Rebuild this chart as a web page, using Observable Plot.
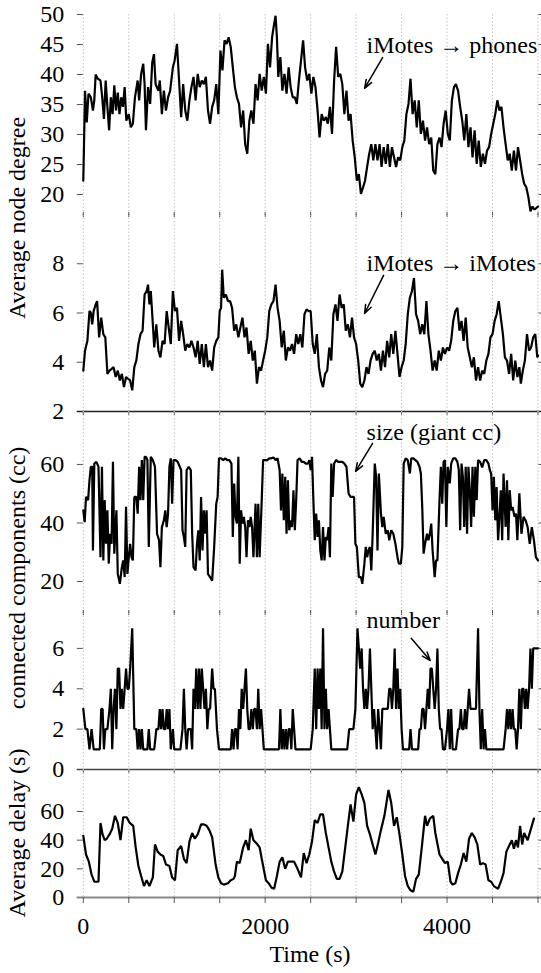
<!DOCTYPE html>
<html><head><meta charset="utf-8">
<script src="https://cdn.jsdelivr.net/npm/d3@7"></script>
<script src="https://cdn.jsdelivr.net/npm/@observablehq/plot@0.6"></script>
<style>
html,body{margin:0;padding:0;background:#fff;}
#chart{position:relative;width:541px;height:973px;overflow:hidden;font-family:"Liberation Serif","Times New Roman",serif;}
#chart svg{position:absolute;left:0;}
#chart svg text{font-family:"Liberation Serif","Times New Roman",serif;}
</style></head><body><div id="chart"></div>
<script>
const FONT = '"Liberation Serif", "Times New Roman", serif';
const FS = 24;

// x ticks / grid (seconds)
const gridX = [0,500,1000,1500,2000,2500,3000,3500,4000,4500,5000];
const xLabels = [0,2000,4000];

// y ticks per panel
const ticksPhones = [20,25,30,35,40,45,50];
const ticksMotes = [2,4,6,8];
const ticksSize = [20,40,60];
const ticksNumber = [0,2,4,6];
const ticksDelay = [0,20,40,60];

// axis titles
const titleDegree = "Average node degree";
const titleCC = "connected components (cc)";
const titleDelay = "Average delay (s)";
const titleTime = "Time (s)";

// series: [time (s), value]
const phones = [[0,22.3],[19,37.3],[38,32],[57,36.8],[83,36.2],[106,34],[121,35.7],[136,40],[159,39.3],[189,39],[208,36.2],[227,32.6],[246,39],[265,34.6],[284,30.7],[303,36.2],[322,33.4],[341,38.2],[360,34],[379,37],[398,33.4],[417,36.2],[436,34.6],[455,37.9],[473,32.3],[500,33.4],[523,31.2],[545,31.8],[568,36.2],[598,39],[614,35.7],[636,40.1],[659,41.8],[674,38.4],[689,30.7],[712,37.9],[735,35.1],[758,42],[777,43.4],[795,38.4],[826,37.3],[841,39],[864,33.4],[886,37.3],[909,34],[932,36.2],[955,37.3],[985,41.2],[1004,42.3],[1030,45.1],[1053,39],[1076,32.9],[1098,38.4],[1121,34],[1144,32.3],[1167,35.7],[1189,37.9],[1212,39.6],[1235,35.7],[1258,40.1],[1280,37.9],[1303,39],[1326,38.4],[1348,39.6],[1371,34],[1394,31.8],[1417,34.6],[1439,35.7],[1462,38.4],[1485,33.4],[1508,44],[1530,40.7],[1553,45.7],[1576,45.1],[1598,46.2],[1621,44.6],[1644,41.2],[1667,37.9],[1689,36.2],[1712,35.1],[1735,31.2],[1758,34],[1780,28.4],[1803,26.8],[1826,32.3],[1848,34],[1871,31.8],[1894,38.4],[1917,35.7],[1939,40.1],[1962,37.3],[1985,39.6],[2008,36.8],[2030,45.1],[2053,41.2],[2076,46.2],[2098,48.4],[2114,49.8],[2129,46.2],[2144,39.6],[2167,42.9],[2189,37.3],[2212,40.1],[2235,36.8],[2258,41.2],[2280,37.9],[2303,36.2],[2326,36.2],[2348,35.1],[2371,39],[2394,42.3],[2417,45.7],[2439,41.2],[2462,39],[2485,40.1],[2508,36.8],[2530,39.6],[2553,37.9],[2576,34],[2598,29.5],[2621,33.4],[2644,32.3],[2667,32.9],[2689,31.8],[2712,34.6],[2735,30.1],[2758,39],[2780,44.6],[2803,39.6],[2826,40.1],[2848,38.4],[2871,33.4],[2894,37.3],[2917,32.3],[2939,33.4],[2962,29],[2985,26.2],[3008,22.3],[3030,23.4],[3053,20.1],[3076,21.2],[3098,22.3],[3121,24.6],[3144,26.8],[3167,28.4],[3189,25.7],[3212,28.4],[3235,25.7],[3258,28.4],[3280,24.6],[3303,27.9],[3326,25.1],[3348,28.4],[3371,24.6],[3394,27.9],[3417,26.2],[3439,24.6],[3462,26.2],[3485,25.7],[3508,27.9],[3530,29],[3553,33.4],[3576,35.1],[3598,39.3],[3621,33.4],[3644,35.7],[3667,31.2],[3689,35.7],[3712,30.1],[3735,32.3],[3758,29],[3780,31.2],[3803,28.4],[3826,29.5],[3848,24],[3871,23.4],[3894,28.4],[3917,29.5],[3939,27.9],[3962,31.8],[3985,34],[4008,30.1],[4030,29],[4053,35.7],[4076,37.9],[4098,38.4],[4121,37.3],[4144,34.6],[4167,32.3],[4189,29],[4212,33.4],[4235,27.9],[4258,31.2],[4280,26.2],[4303,30.7],[4326,25.1],[4348,29],[4371,24.6],[4394,26.8],[4417,25.1],[4439,27.3],[4462,27.9],[4485,30.1],[4508,31.8],[4530,33.4],[4553,35.7],[4576,34],[4598,34.6],[4621,31.2],[4644,28.4],[4667,25.7],[4689,26.8],[4712,24],[4735,27.3],[4758,24],[4780,27.9],[4803,25.7],[4826,23.4],[4848,21.8],[4871,21.2],[4894,19.6],[4917,17.2],[4939,18],[4962,17.5],[4985,17.8],[5000,18]];

const motes = [[0,3.66],[19,4.47],[45,4.87],[68,6.08],[83,6.01],[98,5.54],[114,6.08],[136,6.35],[152,6.48],[174,5.01],[197,5.81],[220,5.14],[242,5.01],[265,3.53],[288,3.66],[311,3.73],[333,3.8],[356,3.4],[379,3.66],[402,3.26],[424,3.53],[447,2.99],[470,3.4],[492,3.33],[515,3.26],[538,2.86],[561,3.8],[583,4.07],[606,4.74],[629,5.14],[652,5.28],[674,6.75],[697,6.89],[712,7.15],[727,6.35],[742,6.89],[758,5.95],[780,4.6],[803,5.54],[826,4.47],[848,4.2],[871,4.87],[894,4.74],[917,6.08],[939,5.41],[962,4.74],[985,6.89],[1008,6.08],[1030,6.21],[1053,4.87],[1076,5.68],[1098,5.14],[1121,4.47],[1144,4.74],[1167,4.6],[1189,4.87],[1212,4.6],[1235,4.2],[1258,4.87],[1280,3.93],[1303,4.74],[1326,3.8],[1348,4.74],[1371,3.8],[1394,4.07],[1417,3.66],[1439,4.6],[1462,4.87],[1485,5.01],[1500,6.08],[1515,6.21],[1527,7.76],[1545,6.62],[1568,6.75],[1591,6.48],[1614,6.48],[1636,6.21],[1659,5.28],[1682,5.54],[1705,5.01],[1727,5.41],[1750,5.81],[1773,5.01],[1795,5.41],[1818,4.34],[1841,4.87],[1864,4.07],[1886,4.47],[1909,3.13],[1932,3.8],[1955,3.66],[1977,4.07],[2000,4.47],[2023,5.01],[2045,6.08],[2068,6.35],[2091,6.48],[2114,7.15],[2136,6.21],[2159,5.68],[2182,4.6],[2205,5.28],[2227,4.07],[2250,4.6],[2273,4.47],[2295,4.74],[2318,4.34],[2341,5.14],[2364,4.74],[2386,5.14],[2409,4.6],[2432,5.95],[2455,6.15],[2477,6.08],[2500,6.08],[2523,4.74],[2545,4.34],[2568,5.14],[2591,3.8],[2614,3.26],[2636,2.99],[2659,3.53],[2682,3.66],[2705,4.6],[2727,4.07],[2750,5.95],[2773,6.35],[2795,5.68],[2818,6.75],[2841,6.21],[2864,6.35],[2886,5.28],[2909,5.54],[2932,5.01],[2955,5.81],[2977,5.01],[3000,4.74],[3023,4.07],[3045,3.13],[3068,2.99],[3091,3.26],[3114,3.8],[3136,3.53],[3159,4.07],[3182,4.34],[3205,4.47],[3227,4.07],[3250,4.34],[3273,3.66],[3295,4.47],[3318,3.8],[3341,4.87],[3364,4.2],[3386,5.14],[3409,4.34],[3432,5.28],[3455,4.34],[3477,3.4],[3500,3.8],[3523,4.07],[3545,4.74],[3568,5.95],[3591,6.62],[3614,6.89],[3636,7.42],[3659,5.95],[3682,5.68],[3705,5.14],[3727,5.54],[3750,5.14],[3773,6.48],[3795,5.14],[3818,4.47],[3841,3.66],[3864,4.07],[3886,3.66],[3909,4.47],[3932,4.07],[3955,4.6],[3977,4.34],[4000,4.6],[4023,4.47],[4045,4.87],[4068,5.68],[4091,6.08],[4114,6.21],[4136,5.28],[4159,5.68],[4182,4.87],[4205,5.81],[4227,4.6],[4250,4.2],[4273,3.8],[4295,4.2],[4318,3.26],[4341,3.8],[4364,3.26],[4386,3.66],[4409,3.53],[4432,4.07],[4455,4.34],[4477,5.01],[4500,5.14],[4523,5.68],[4545,5.95],[4568,6.48],[4591,5.81],[4614,5.14],[4636,4.2],[4659,4.07],[4682,3.53],[4705,4.34],[4727,3.26],[4750,4.07],[4773,3.4],[4795,3.8],[4811,3.13],[4833,3.66],[4856,4.07],[4879,5.14],[4902,4.47],[4924,4.6],[4947,5.01],[4970,5.14],[4992,4.2],[5000,4.27]];

const giantSize = [[0,44.3],[15,40.3],[30,48.9],[53,47.8],[68,54.6],[83,59.2],[98,59.2],[106,30.6],[121,60.3],[144,60.9],[167,59.2],[189,28.3],[205,59.2],[220,27.2],[235,47.8],[250,32.9],[265,44.3],[280,26.1],[295,36.3],[311,32.9],[326,60.9],[341,29.5],[364,44.3],[379,22.6],[402,19.2],[424,24.9],[439,27.2],[455,21.5],[470,45.5],[485,22.6],[500,28.3],[515,32.9],[530,28.3],[545,27.2],[561,48.9],[583,48.9],[598,43.2],[614,59.2],[629,47.8],[644,61.5],[659,47.8],[674,62.6],[689,62.6],[705,61.5],[720,31.8],[742,62.6],[765,61.5],[788,59.2],[811,36.3],[833,34.1],[848,24.9],[864,38.6],[886,40.9],[902,44.3],[917,38.6],[932,43.2],[947,59.2],[962,62.1],[977,46.6],[992,61.5],[1015,61.5],[1038,60.9],[1061,59.2],[1076,58.1],[1091,37.5],[1106,35.2],[1121,31.8],[1136,58.1],[1159,59.2],[1182,58.1],[1197,36.3],[1212,24.9],[1235,23.8],[1250,32.9],[1265,37.5],[1280,27.2],[1295,48.9],[1311,30.6],[1326,44.3],[1341,36.3],[1356,44.3],[1371,22.6],[1394,21.5],[1417,20.3],[1439,31.8],[1462,46.6],[1477,48.9],[1492,62.1],[1515,62.1],[1538,61.5],[1561,62.1],[1583,61.5],[1606,61.5],[1629,60.3],[1644,35.2],[1659,53.5],[1674,42.1],[1689,39.8],[1705,62.6],[1720,26.1],[1735,44.3],[1750,39.8],[1765,42.1],[1780,38.6],[1795,28.3],[1811,40.9],[1826,38.6],[1841,42.1],[1856,38.6],[1871,28.3],[1894,46.6],[1909,28.3],[1924,46.6],[1939,28.3],[1962,47.8],[1977,61.5],[2000,61.5],[2023,61.5],[2045,62.1],[2068,62.1],[2091,62.4],[2114,61.5],[2136,62.1],[2159,58.1],[2174,44.3],[2189,56.9],[2205,40.9],[2220,55.8],[2235,36.3],[2250,54.6],[2265,37.5],[2280,40.9],[2295,38.6],[2311,51.2],[2326,37.5],[2341,47.8],[2356,61.5],[2379,62.1],[2402,60.9],[2424,60.9],[2447,60.3],[2470,60.3],[2485,61.5],[2500,58.1],[2515,62.6],[2530,47.8],[2545,34.1],[2561,43.2],[2576,35.2],[2591,40.9],[2606,30.6],[2621,27.2],[2636,38.6],[2652,27.2],[2667,35.2],[2682,34.1],[2697,38.6],[2712,28.3],[2727,60.3],[2742,48.9],[2758,60.3],[2780,61.5],[2803,60.9],[2826,60.9],[2848,60.9],[2871,60.3],[2894,59.2],[2917,50.1],[2939,48.9],[2962,48.9],[2977,48.9],[2992,32.9],[3008,31.8],[3030,21.5],[3053,21.5],[3068,19.2],[3091,26.1],[3106,31.8],[3121,28.3],[3136,30.6],[3152,31.8],[3167,23.8],[3182,36.3],[3205,60.3],[3220,55.8],[3235,30.6],[3250,56.9],[3273,43.2],[3288,38.6],[3303,42.1],[3326,36.3],[3348,37.5],[3364,34.1],[3386,37.5],[3409,36.3],[3432,32.9],[3455,28.3],[3470,26.1],[3492,26.1],[3508,31.8],[3523,60.3],[3545,62.1],[3568,61.5],[3591,56.9],[3606,62.1],[3629,62.1],[3652,61.5],[3674,60.9],[3697,59.2],[3712,56.9],[3727,45.5],[3742,29.5],[3758,32.9],[3780,36.3],[3795,34.1],[3811,36.3],[3826,39.8],[3841,30.6],[3864,21.5],[3879,27.2],[3894,27.2],[3917,47.8],[3932,59.2],[3947,46.6],[3962,60.9],[3977,61.5],[3992,38.6],[4008,59.2],[4030,53.5],[4045,60.3],[4068,62.1],[4091,62.1],[4114,60.9],[4129,58.1],[4144,37.5],[4159,60.3],[4174,55.8],[4189,38.6],[4205,59.2],[4220,36.3],[4235,59.2],[4250,51.2],[4265,38.6],[4280,59.2],[4295,42.1],[4311,59.2],[4326,47.8],[4341,61.5],[4364,60.9],[4386,59],[4409,61.5],[4432,61.5],[4455,60.3],[4470,58.1],[4485,56.9],[4500,44.3],[4515,55.8],[4530,40.9],[4545,52.3],[4561,34.1],[4576,42.1],[4591,51.2],[4606,34.1],[4621,56.9],[4644,38.6],[4659,54.6],[4674,34.1],[4689,51.2],[4705,44.3],[4720,45.5],[4742,42.1],[4758,43.2],[4773,34.1],[4795,50.1],[4818,36.3],[4841,42.1],[4864,40.9],[4886,38.6],[4909,32.9],[4932,38.6],[4955,34.1],[4977,28.3],[5000,27.2]];

const ccNumber = [[0,3],[23,2],[45,2],[68,1],[91,2],[114,1],[136,1],[159,1],[182,1],[197,3],[212,3],[227,1],[242,2],[265,2],[288,3],[303,4],[318,1],[333,3],[348,4],[364,2],[379,5],[394,5],[409,3],[424,4],[439,3],[455,4],[470,5],[485,4],[500,4],[515,5],[538,7],[561,2],[583,2],[598,1],[614,2],[629,1],[644,2],[659,1],[682,1],[705,1],[720,2],[735,1],[758,1],[780,1],[803,2],[826,2],[841,3],[856,2],[871,3],[886,2],[902,2],[917,3],[932,2],[947,3],[962,1],[985,2],[1000,1],[1023,1],[1045,1],[1068,1],[1091,2],[1106,4],[1121,2],[1136,1],[1152,2],[1167,2],[1182,2],[1197,1],[1212,4],[1227,3],[1242,5],[1258,3],[1273,5],[1288,3],[1303,5],[1318,4],[1333,3],[1348,4],[1364,2],[1379,3],[1394,3],[1417,5],[1432,4],[1447,4],[1470,2],[1492,1],[1515,1],[1553,1],[1591,1],[1621,1],[1636,2],[1652,1],[1667,2],[1682,2],[1697,1],[1712,3],[1727,2],[1742,4],[1758,3],[1773,4],[1788,5],[1803,3],[1818,2],[1833,2],[1848,3],[1864,2],[1879,3],[1894,3],[1909,2],[1924,4],[1939,2],[1955,3],[1970,2],[1985,1],[2008,1],[2045,1],[2083,1],[2121,1],[2152,1],[2167,3],[2182,1],[2197,2],[2212,1],[2227,2],[2242,1],[2258,2],[2273,2],[2288,1],[2303,3],[2318,2],[2333,1],[2356,1],[2386,1],[2424,1],[2462,1],[2500,1],[2523,2],[2545,5],[2561,2],[2576,5],[2591,3],[2606,5],[2621,2],[2636,7],[2652,2],[2667,4],[2682,2],[2697,3],[2712,2],[2727,1],[2750,1],[2788,1],[2826,1],[2864,1],[2902,1],[2924,2],[2947,2],[2970,2],[2992,3],[3015,7],[3030,6],[3045,5],[3061,6],[3076,4],[3091,3],[3106,4],[3121,3],[3136,4],[3152,6],[3167,4],[3182,2],[3197,3],[3212,2],[3227,1],[3242,3],[3258,2],[3273,1],[3288,3],[3303,3],[3318,3],[3333,3],[3348,3],[3364,4],[3379,4],[3394,3],[3409,4],[3424,6],[3439,3],[3455,5],[3470,3],[3485,4],[3500,2],[3515,1],[3538,1],[3561,1],[3583,1],[3598,2],[3614,1],[3636,1],[3659,1],[3682,1],[3697,2],[3712,2],[3727,3],[3742,3],[3758,2],[3773,3],[3788,4],[3803,3],[3818,5],[3833,5],[3848,4],[3864,3],[3879,4],[3894,6],[3909,3],[3924,2],[3939,2],[3955,1],[3977,1],[4000,2],[4015,3],[4030,1],[4045,3],[4061,1],[4076,1],[4098,1],[4121,2],[4136,2],[4152,3],[4167,2],[4182,2],[4197,3],[4212,2],[4227,3],[4242,4],[4258,3],[4280,3],[4295,3],[4318,3],[4341,7],[4356,3],[4371,1],[4386,3],[4402,1],[4417,2],[4432,1],[4455,1],[4485,1],[4515,1],[4545,1],[4583,1],[4621,1],[4644,2],[4659,3],[4674,2],[4689,3],[4705,2],[4720,3],[4735,2],[4750,2],[4765,1],[4780,2],[4795,4],[4811,2],[4826,4],[4841,4],[4856,3],[4871,4],[4886,3],[4902,4],[4917,6],[4932,4],[4947,6],[4962,6],[4985,6],[5000,6]];

const delay = [[0,43],[30,30],[61,25],[91,16],[121,11],[167,11],[189,52],[212,44],[235,40],[258,41],[288,44],[318,48],[348,57],[379,52],[409,40],[439,56],[477,56],[511,52],[549,50],[576,35],[606,22],[636,15],[667,8],[697,12],[727,8],[765,14],[788,37],[818,32],[848,30],[879,29],[909,23],[947,22],[977,14],[1008,12],[1038,33],[1076,36],[1106,27],[1136,24],[1167,39],[1197,45],[1227,41],[1258,44],[1295,51],[1326,51],[1356,50],[1386,47],[1417,42],[1455,23],[1485,14],[1515,10],[1545,9],[1591,10],[1621,12],[1652,13],[1667,15],[1689,25],[1720,24],[1758,35],[1788,40],[1818,33],[1841,48],[1871,40],[1902,38],[1939,35],[1962,27],[2008,12],[2038,10],[2068,7],[2098,6],[2129,15],[2159,25],[2189,28],[2220,20],[2250,25],[2280,25],[2318,25],[2356,20],[2394,14],[2424,31],[2455,24],[2485,30],[2515,39],[2545,54],[2576,52],[2606,58],[2636,58],[2667,45],[2697,35],[2727,25],[2758,18],[2788,13],[2818,13],[2848,18],[2909,50],[2939,65],[2970,53],[3000,72],[3030,77],[3061,72],[3091,66],[3121,50],[3152,44],[3182,37],[3212,30],[3242,38],[3273,47],[3311,57],[3356,75],[3386,66],[3417,50],[3447,56],[3477,44],[3508,30],[3538,15],[3568,8],[3598,5],[3629,4],[3659,13],[3689,16],[3727,38],[3758,57],[3780,50],[3811,55],[3848,57],[3871,45],[3917,30],[3947,27],[3977,24],[4008,25],[4038,11],[4061,9],[4091,10],[4121,17],[4152,23],[4182,31],[4212,25],[4242,41],[4273,45],[4303,42],[4333,37],[4364,23],[4394,24],[4424,23],[4455,12],[4485,11],[4515,8],[4561,6],[4591,11],[4621,17],[4652,32],[4682,36],[4712,40],[4735,34],[4758,40],[4780,35],[4803,50],[4826,37],[4848,45],[4886,40],[4955,55]];

// annotations: label, text position, arrow from -> to
const notePhones = {label: "iMotes \u2192 phones", x: 3115, y: 44.8, x1: 3291, y1: 42.8, x2: 3093, y2: 37.7};
const noteMotes  = {label: "iMotes \u2192 iMotes", x: 3115, y: 8.0, x1: 3302, y1: 7.53, x2: 3093, y2: 5.98};
const noteSize   = {label: "size (giant cc)", x: 3115, y: 70.9, x1: 3181, y1: 67.2, x2: 2994, y2: 57.6};
const noteNumber = {label: "number", x: 3115, y: 7.39, x1: 3606, y1: 6.5, x2: 3815, y2: 5.4};

const chart = document.getElementById("chart");
const fmt = d => String(d);

function notes(n) {
  return [
    Plot.text([n], {x: "x", y: "y", text: "label", textAnchor: "start", fontSize: FS, fontFamily: FONT, fill: "#000"}),
    Plot.arrow([n], {x1: "x1", y1: "y1", x2: "x2", y2: "y2", stroke: "#000", strokeWidth: 1.5, headLength: 9, headAngle: 40})
  ];
}

function panel(o) {
  const marks = [
    Plot.ruleX(gridX, {stroke: "#c4c4c4", strokeWidth: 1, strokeDasharray: "1.5,2"}),
    Plot.line(o.series, {x: d => d[0], y: d => d[1], stroke: "#000", strokeWidth: 2.2, strokeLinejoin: "miter"}),
    Plot.axisY({anchor: "left", ticks: o.yTicks, tickSize: 6, tickPadding: 13, stroke: "#555", fill: "#000", label: null, tickFormat: fmt, fontSize: FS, fontFamily: FONT}),
    Plot.axisY({anchor: "right", ticks: o.yTicks, tickSize: 4, stroke: "#555", fill: "none", label: null})
  ];
  if (o.baseline != null) marks.push(Plot.ruleY([o.baseline], {stroke: o.baseColor, strokeWidth: o.baseWidth, insetLeft: -6, insetRight: -3.5}));
  if (o.topTicks) marks.push(Plot.axisX({anchor: "top", ticks: gridX, tickSize: o.topTicks, stroke: "#555", fill: "none", label: null}));
  if (o.bottomTicks) marks.push(Plot.axisX({anchor: "bottom", ticks: gridX, tickSize: o.bottomTicks, stroke: "#555", fill: "none", label: null}));
  if (o.extra) marks.push(...o.extra);
  const svg = Plot.plot({
    width: 541, height: o.height,
    marginLeft: 82.8, marginRight: 3.5,
    marginTop: o.marginTop || 0, marginBottom: o.marginBottom || 0,
    x: {domain: [0, 5000]},
    y: {domain: o.yDomain},
    style: {background: "none", overflow: "visible", fontFamily: FONT, fontSize: FS + "px", color: "#000"},
    marks
  });
  svg.style.top = o.top + "px";
  chart.append(svg);
}

panel({top: 0, height: 214, marginTop: 14, yDomain: [16.67, 50], yTicks: ticksPhones, series: phones, bottomTicks: 3, extra: notes(notePhones)});
panel({top: 214, height: 197, yDomain: [2, 10], yTicks: ticksMotes, series: motes, topTicks: 3, bottomTicks: 4, baseline: 2, baseColor: "#222", baseWidth: 1.5, extra: notes(noteMotes)});
panel({top: 411, height: 201, yDomain: [9.4, 78.1], yTicks: ticksSize, series: giantSize, bottomTicks: 3, extra: notes(noteSize)});
panel({top: 612, height: 157, yDomain: [0, 7.78], yTicks: ticksNumber, series: ccNumber, topTicks: 3, bottomTicks: 4, baseline: 0, baseColor: "#444", baseWidth: 1.5, extra: notes(noteNumber)});
panel({top: 769, height: 204, marginBottom: 76, yDomain: [0, 89.3], yTicks: ticksDelay, series: delay, bottomTicks: 6, baseline: 0, baseColor: "#888", baseWidth: 2,
  extra: [Plot.axisX({anchor: "bottom", ticks: xLabels, tickSize: 0, tickPadding: 19, stroke: "none", fill: "#000", label: null, tickFormat: fmt, fontSize: FS, fontFamily: FONT})]});

// axis titles overlay
const ns = "http://www.w3.org/2000/svg";
const over = document.createElementNS(ns, "svg");
over.setAttribute("width", 541); over.setAttribute("height", 973);
over.style.top = "0px"; over.style.pointerEvents = "none"; over.style.overflow = "visible";
function addText(str, x, y, rot) {
  const t = document.createElementNS(ns, "text");
  t.setAttribute("transform", `translate(${x},${y})` + (rot ? ` rotate(${rot})` : ""));
  t.setAttribute("text-anchor", "middle");
  t.setAttribute("font-size", FS);
  t.setAttribute("fill", "#000");
  t.style.fontFamily = FONT;
  t.textContent = str;
  over.appendChild(t);
}
addText(titleDegree, 25, 218, -90);
addText(titleCC, 25, 578, -90);
addText(titleDelay, 25, 833, -90);
addText(titleTime, 310, 962, 0);
chart.append(over);
</script>
</body></html>
